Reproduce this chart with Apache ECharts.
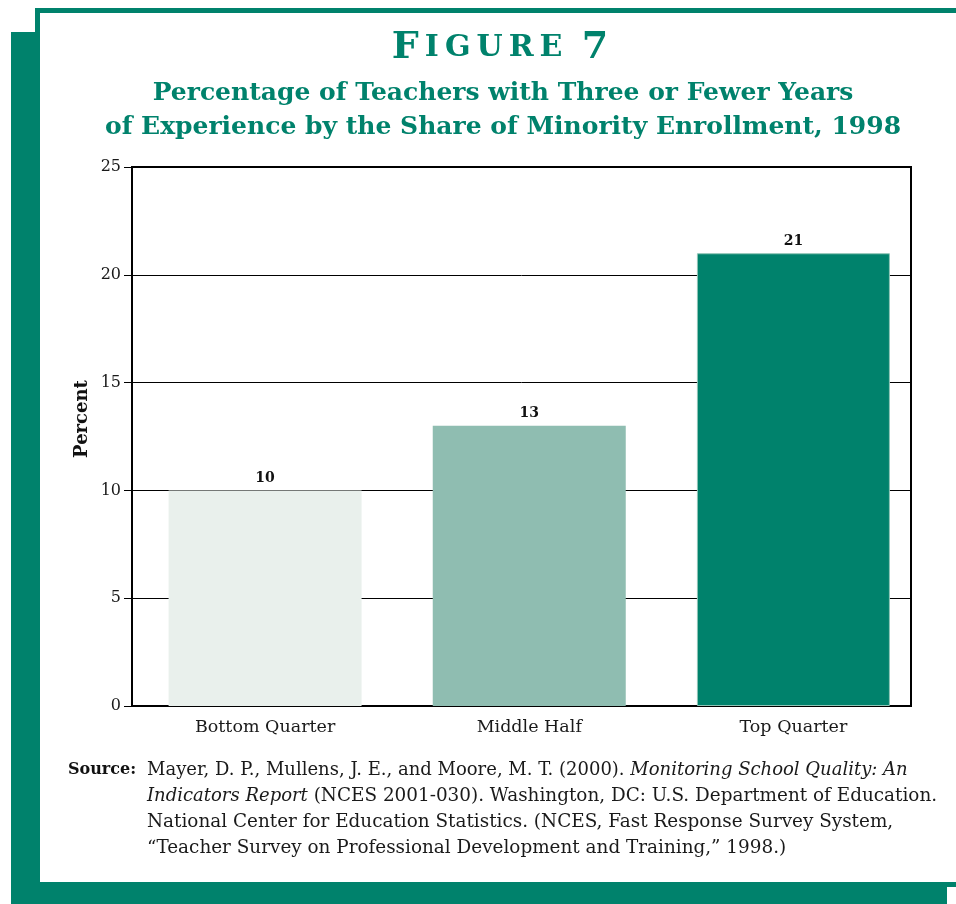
<!DOCTYPE html>
<html>
<head>
<meta charset="utf-8">
<script src="https://cdn.jsdelivr.net/npm/echarts@6/dist/echarts.min.js"></script>
<style>html,body{margin:0;padding:0;background:#fff;}#c{width:956px;height:904px;}</style>
</head>
<body>
<div id="c"></div>
<script>
// ---- data ----
const categories = ['Bottom Quarter', 'Middle Half', 'Top Quarter'];
const values = [10, 13, 21];
const yMin = 0, yMax = 25, yInterval = 5;

// ---- styles ----
const GREEN = '#00826c';
const barColors = ['#e9f0ec', '#8fbdb1', '#00826c'];
const SERIF = '"DejaVu Serif", "Liberation Serif", serif';

const chart = echarts.init(document.getElementById('c'), null, {renderer: 'canvas'});

const figRich = {
  L: {fontFamily: SERIF, fontSize: 38, fontWeight: 'bold', fill: GREEN, color: GREEN, padding: [0, 6, 0, 0]},
  S: {fontFamily: SERIF, fontSize: 30, fontWeight: 'bold', fill: GREEN, color: GREEN, padding: [0, 6, 0, 0]}
};

const srcRich = {
  n: {fontFamily: SERIF, fontSize: 18.4, fill: '#1a1a1a'},
  m: {fontFamily: SERIF, fontSize: 18, fill: '#1a1a1a'},
  i: {fontFamily: SERIF, fontSize: 18, fontStyle: 'italic', fill: '#1a1a1a'}
};

function srcText(y, txt) {
  return {type: 'text', left: 147, top: y, z: 10,
    style: {text: txt, rich: srcRich, fontFamily: SERIF, fontSize: 18.4, fill: '#1a1a1a'}};
}

const option = {
  animation: false,
  backgroundColor: '#fff',
  grid: [
    {left: 132, right: 45, top: 167, bottom: 198, show: true, borderColor: '#000', borderWidth: 2, backgroundColor: 'transparent'},
    {left: 133, right: 30.5, top: 167, bottom: 198}
  ],
  xAxis: [
    {type: 'category', gridIndex: 0, data: categories,
      axisLine: {show: true, lineStyle: {color: '#000', width: 2}},
      axisTick: {show: false}, axisLabel: {show: false}, splitLine: {show: false}},
    {type: 'category', gridIndex: 1, data: categories,
      axisLine: {show: false}, axisTick: {show: false},
      axisLabel: {margin: 12, fontFamily: SERIF, fontSize: 17.5, color: '#1a1a1a'}}
  ],
  yAxis: [
    {type: 'value', gridIndex: 0, min: yMin, max: yMax, interval: yInterval,
      axisLine: {show: true, lineStyle: {color: '#000', width: 2}},
      axisTick: {show: true, length: 8, lineStyle: {color: '#000', width: 1}},
      axisLabel: {margin: 11, fontFamily: SERIF, fontSize: 16, color: '#1a1a1a'},
      splitLine: {show: true, lineStyle: {color: '#000', width: 1}}},
    {type: 'value', gridIndex: 1, min: yMin, max: yMax, interval: yInterval, show: false}
  ],
  series: [{
    type: 'bar', xAxisIndex: 1, yAxisIndex: 1, barWidth: 193, z: 3,
    data: values.map((v, i) => ({value: v, itemStyle: {color: barColors[i], borderColor: i === 2 ? '#8fc4b6' : 'transparent', borderWidth: i === 2 ? 1 : 0}})),
    label: {show: true, position: 'top', distance: 5, fontFamily: SERIF, fontSize: 14, fontWeight: 'bold', color: '#111'}
  }],
  graphic: [
    // frame
    {type: 'rect', shape: {x: 11, y: 32, width: 24, height: 872}, style: {fill: GREEN}, z: 1},
    {type: 'rect', shape: {x: 11, y: 883, width: 936, height: 21}, style: {fill: GREEN}, z: 1},
    {type: 'rect', shape: {x: 35, y: 8, width: 921, height: 5}, style: {fill: GREEN}, z: 1},
    {type: 'rect', shape: {x: 35, y: 8, width: 5, height: 879}, style: {fill: GREEN}, z: 1},
    {type: 'rect', shape: {x: 35, y: 882, width: 921, height: 5}, style: {fill: GREEN}, z: 1},
    // titles
    {type: 'text', x: 503, y: 48, z: 10,
      style: {text: '{L|F}{S|I}{S|G}{S|U}{S|R}{S|E}{L| 7}', rich: figRich, fill: GREEN, align: 'center', verticalAlign: 'middle'}},
    {type: 'text', x: 503, y: 93, z: 10,
      style: {text: 'Percentage of Teachers with Three or Fewer Years', fontFamily: SERIF, fontSize: 25, fontWeight: 'bold', fill: GREEN, align: 'center', verticalAlign: 'middle'}},
    {type: 'text', x: 503, y: 127, z: 10,
      style: {text: 'of Experience by the Share of Minority Enrollment, 1998', fontFamily: SERIF, fontSize: 25, fontWeight: 'bold', fill: GREEN, align: 'center', verticalAlign: 'middle'}},
    // y axis name
    {type: 'text', x: 82, y: 419, rotation: Math.PI / 2, z: 10,
      style: {text: 'Percent', fontFamily: SERIF, fontSize: 18, fontWeight: 'bold', fill: '#111', align: 'center', verticalAlign: 'middle'}},
    // source
    {type: 'text', left: 68, top: 762, z: 10,
      style: {text: 'Source:', fontFamily: SERIF, fontSize: 16, fontWeight: 'bold', fill: '#111'}},
    srcText(761, '{m|Mayer, D. P., Mullens, J. E., and Moore, M. T. (2000). }{i|Monitoring School Quality: An}'),
    srcText(787, '{i|Indicators Report}{n| (NCES 2001-030). Washington, DC: U.S. Department of Education.}'),
    srcText(813, '{n|National Center for Education Statistics. (NCES, Fast Response Survey System,}'),
    srcText(839, '{n|\u201CTeacher Survey on Professional Development and Training,\u201D 1998.)}')
  ]
};
chart.setOption(option);
</script>
</body>
</html>
